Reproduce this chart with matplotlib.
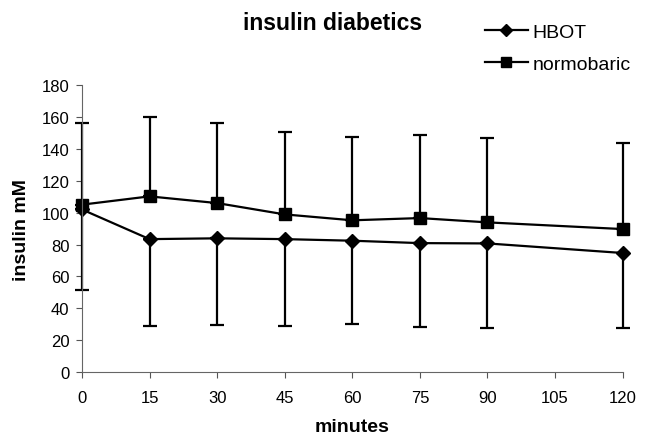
import numpy as np
import matplotlib.pyplot as plt
from matplotlib.lines import Line2D

plt.rcParams['font.family'] = ['Liberation Sans', 'DejaVu Sans']

minutes = [0, 15, 30, 45, 60, 75, 90, 120]
hbot = [102, 83.4, 83.9, 83.4, 82.4, 80.9, 80.7, 74.7]
hbot_low = [51.6, 28.7, 29.5, 28.7, 30.1, 28.2, 27.8, 27.8]
normo = [105, 110.2, 106, 98.9, 95.2, 96.6, 93.9, 89.7]
normo_high = [156, 159.8, 156.4, 150.3, 147.4, 148.7, 146.8, 143.7]

# one-sided bars: HBOT downwards, normobaric upwards
hbot_err = [np.array(hbot) - np.array(hbot_low), np.zeros(len(hbot))]
normo_err = [np.zeros(len(normo)), np.array(normo_high) - np.array(normo)]

fig = plt.figure(figsize=(6.5, 4.39), dpi=100)
ax = fig.add_axes([0.126, 0.150, 0.832, 0.654])

ax.errorbar(minutes, hbot, yerr=hbot_err, color='black', lw=1.6, marker='D',
            ms=7, capsize=5, capthick=1.6, elinewidth=1.6, clip_on=False)
ax.errorbar(minutes, normo, yerr=normo_err, color='black', lw=1.6, marker='s',
            ms=8, capsize=5, capthick=1.6, elinewidth=1.6, clip_on=False)

ax.set_xlim(0, 120)
ax.set_ylim(0, 180)
ax.set_xticks(range(0, 121, 15))
ax.set_yticks(range(0, 181, 20))
ax.tick_params(labelsize=12, length=4, width=0.8, color='#555555')
ax.tick_params(axis='x', pad=9)
ax.tick_params(axis='y', pad=5)
for s in ['top', 'right']:
    ax.spines[s].set_visible(False)
for s in ['left', 'bottom']:
    ax.spines[s].set_color('#666666')
    ax.spines[s].set_linewidth(0.8)

ax.set_xlabel('minutes', fontsize=14, fontweight='bold', labelpad=9)
ax.set_ylabel('insulin mM', fontsize=14, fontweight='bold', labelpad=8)
fig.text(0.511, 0.947, 'insulin diabetics', fontsize=16.5, fontweight='bold',
         ha='center', va='center')

handles = [Line2D([], [], color='black', lw=1.6, marker='D', ms=6),
           Line2D([], [], color='black', lw=1.6, marker='s', ms=7)]
fig.legend(handles, ['HBOT', 'normobaric'], loc='upper left',
           bbox_to_anchor=(0.746, 0.944), frameon=False, fontsize=14,
           handlelength=2.2, handletextpad=0.25, labelspacing=0.72,
           borderpad=0, borderaxespad=0)

fig.savefig('out.png', dpi=100)
